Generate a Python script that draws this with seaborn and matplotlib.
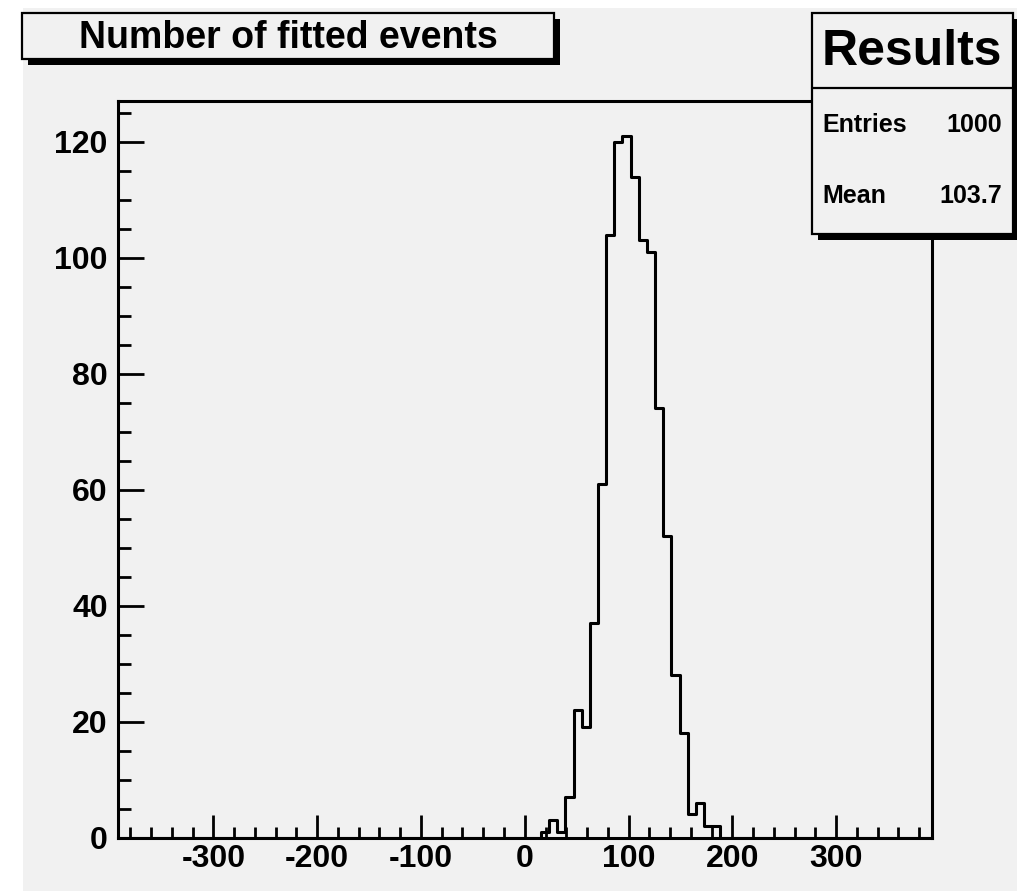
import numpy as np
import pandas as pd
import matplotlib
matplotlib.use("Agg")
import matplotlib.pyplot as plt
import seaborn as sns
from matplotlib.patches import Rectangle
from matplotlib.lines import Line2D
from matplotlib.ticker import MultipleLocator

# Histogram definition: 100 equal bins over [-392.5, 392.5]
x_min, x_max, n_bins = -392.5, 392.5, 100
first_filled_bin = 52
counts = [1, 3, 1, 7, 22, 19, 37, 61, 104, 120, 121, 114,
          103, 101, 74, 52, 28, 18, 4, 6, 2, 2]
mean_value = 103.7

title_text = "Number of fitted events"
stats_title = "Results"
x_major_ticks = [-300, -200, -100, 0, 100, 200, 300]
y_major_ticks = [0, 20, 40, 60, 80, 100, 120]

edges = [float(e) for e in np.linspace(x_min, x_max, n_bins + 1)]
width = (x_max - x_min) / n_bins
centers = [x_min + (first_filled_bin + i + 0.5) * width for i in range(len(counts))]
entries = int(sum(counts))
df = pd.DataFrame({"value": centers, "count": counts})

sns.set_style("ticks")
plt.rcParams["font.family"] = ["Liberation Sans", "DejaVu Sans"]
plt.rcParams["font.weight"] = "bold"
plt.rcParams["text.color"] = "black"
plt.rcParams["axes.unicode_minus"] = False

W, H = 1017, 891
GRAY = "#f1f1f1"
fig = plt.figure(figsize=(W / 100, H / 100), dpi=100, facecolor="white")


def fx(px):
    return px / W


def fy(py):
    return 1 - py / H


# canvas background
fig.add_artist(Rectangle((fx(23), 0), 1 - fx(23), fy(8), transform=fig.transFigure,
                         facecolor=GRAY, edgecolor="none", zorder=-5))

ax_left, ax_right, ax_bottom = 117.5, 932.0, 837.5
ax_top = 100.9
ax = fig.add_axes([fx(ax_left), fy(ax_bottom), fx(ax_right - ax_left),
                   (ax_bottom - ax_top) / H])
ax.set_facecolor(GRAY)

sns.histplot(data=df, x="value", weights="count", bins=edges, element="step",
             fill=False, color="black", linewidth=2.2, ax=ax)

ax.set_xlim(x_min, x_max)
ax.set_ylim(0, max(counts) * 1.05)
ax.set_xlabel("")
ax.set_ylabel("")
ax.set_xticks(x_major_ticks)
ax.set_yticks(y_major_ticks)
ax.xaxis.set_minor_locator(MultipleLocator(20))
ax.yaxis.set_minor_locator(MultipleLocator(5))

for s in ax.spines.values():
    s.set_visible(True)
    s.set_linewidth(2.2)
    s.set_color("black")

ax.tick_params(axis="both", which="both", direction="in", top=False, right=False,
               width=2.0, color="black", labelcolor="black", labelsize=23)
ax.tick_params(axis="x", which="major", length=16.5, pad=5)
ax.tick_params(axis="x", which="minor", length=7.7)
ax.tick_params(axis="y", which="major", length=18.7, pad=7)
ax.tick_params(axis="y", which="minor", length=9.2)
for lab in ax.get_xticklabels() + ax.get_yticklabels():
    lab.set_fontweight("bold")


def framed_box(x0, y0, x1, y1, shadow=6):
    fig.add_artist(Rectangle((fx(x0 + shadow), fy(y1 + shadow)),
                             fx(x1 - x0), (y1 - y0) / H, transform=fig.transFigure,
                             facecolor="black", edgecolor="none", zorder=3))
    fig.add_artist(Rectangle((fx(x0), fy(y1)), fx(x1 - x0), (y1 - y0) / H,
                             transform=fig.transFigure, facecolor=GRAY,
                             edgecolor="black", linewidth=1.6, zorder=4))


# title box
framed_box(22, 13, 554, 59)
fig.text(fx(288), fy(48), title_text, ha="center", va="baseline",
         fontsize=27, fontweight="bold", color="black", zorder=5)

# statistics box
framed_box(811.5, 13, 1013, 234)
fig.add_artist(Line2D([fx(811.5), fx(1013)], [fy(88), fy(88)],
                      transform=fig.transFigure, color="black", linewidth=1.6, zorder=5))
fig.text(fx(912), fy(65), stats_title, ha="center", va="baseline",
         fontsize=36, fontweight="bold", color="black", zorder=5)
fig.text(fx(822), fy(132), "Entries", ha="left", va="baseline",
         fontsize=18, fontweight="bold", color="black", zorder=5)
fig.text(fx(1002), fy(132), f"{entries}", ha="right", va="baseline",
         fontsize=18, fontweight="bold", color="black", zorder=5)
fig.text(fx(822), fy(203), "Mean", ha="left", va="baseline",
         fontsize=18, fontweight="bold", color="black", zorder=5)
fig.text(fx(1002), fy(203), f"{mean_value:.1f}", ha="right", va="baseline",
         fontsize=18, fontweight="bold", color="black", zorder=5)

fig.savefig("out.png", dpi=100, facecolor=fig.get_facecolor())
